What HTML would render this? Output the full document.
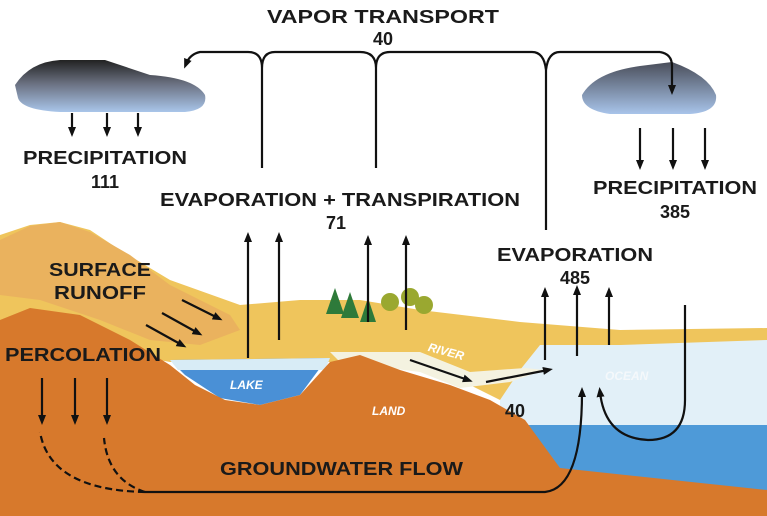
<!DOCTYPE html>
<html><head><style>html,body{margin:0;padding:0;background:#fff}svg{display:block}text{font-family:"Liberation Sans",sans-serif;font-weight:bold;fill:#1a1a1a}</style></head><body>
<svg width="767" height="516" viewBox="0 0 767 516" xmlns="http://www.w3.org/2000/svg">
<defs>
<marker id="a" markerWidth="10" markerHeight="10" refX="5" refY="5" orient="auto" markerUnits="userSpaceOnUse"><path d="M0,1 L10,5 L0,9 Z" fill="#111"/></marker>
<linearGradient id="cl" x1="0" y1="0" x2="0" y2="1"><stop offset="0" stop-color="#222"/><stop offset="0.45" stop-color="#6a7080"/><stop offset="1" stop-color="#a9c6ea"/></linearGradient>
<linearGradient id="cr" x1="0" y1="0" x2="0" y2="1"><stop offset="0" stop-color="#4a4e5a"/><stop offset="1" stop-color="#a8c4ea"/></linearGradient>
</defs>
<rect x="500" y="332" width="267" height="100" fill="#e2f0f8"/>
<path d="M520,425 L767,425 L767,492 L560,470 Z" fill="#4e9ad8"/>
<path d="M0,235 L30,225 L60,222 L90,230 L120,250 L170,280 L240,305 L300,300 L360,300 L420,310 L520,322 L620,330 L767,328 L767,340 L620,345 L540,345 L520,370 L500,400 L440,370 L330,362 L170,362 L0,330 Z" fill="#efc55c"/>
<path d="M0,240 L30,226 L60,222 L90,232 L130,255 L170,285 L230,315 L240,330 L200,345 L150,340 L100,320 L40,300 L0,295 Z" fill="#eab25e"/>
<path d="M170,360 L330,358 L320,368 L300,395 L260,405 L220,398 L185,375 Z" fill="#4a90d6"/>
<path d="M170,360 L330,358 L325,370 L178,370 Z" fill="#d8ecf6"/>
<path d="M330,352 L420,352 L470,372 L525,368 L545,370 L510,382 L460,388 L420,372 L340,362 Z" fill="#f4f2e0"/>
<path d="M0,320 L30,308 L80,315 L130,340 L170,365 L195,385 L225,400 L260,405 L300,395 L330,362 L360,355 L400,370 L450,385 L490,400 L525,420 L560,468 L767,490 L767,516 L0,516 Z" fill="#d7792c"/>
<path d="M15,85 Q30,62 60,60 L105,60 L150,75 Q195,78 205,95 Q208,110 185,112 L60,112 Q22,110 18,98 Z" fill="url(#cl)"/>
<path d="M582,95 Q595,72 640,66 L672,62 Q708,75 716,95 Q718,112 690,114 L610,114 Q582,110 582,95 Z" fill="url(#cr)"/>
<g fill="#2e7a3a"><path d="M335,288 L326,314 L344,314Z"/><path d="M350,292 L341,318 L359,318Z"/><path d="M368,298 L360,322 L376,322Z"/></g>
<g fill="#9aa830"><circle cx="390" cy="302" r="9"/><circle cx="410" cy="297" r="9"/><circle cx="424" cy="305" r="9"/></g>
<g stroke="#111" stroke-width="2.2" fill="none">
<path d="M660,52 L560,52 Q548,52 546,70 Q544,52 532,52 L390,52 Q376,52 376,68 L376,168 M376,68 Q376,52 360,52 L275,52 Q262,52 262,68 L262,168 M262,68 Q262,52 248,52 L200,52 Q190,54 186,64" marker-end="url(#a)"/>
<path d="M546,70 L546,230"/>
<path d="M660,52 Q672,54 672,66 L672,90" marker-end="url(#a)"/>
<path d="M72,113 L72,132" marker-end="url(#a)"/><path d="M107,113 L107,132" marker-end="url(#a)"/><path d="M138,113 L138,132" marker-end="url(#a)"/>
<path d="M640,128 L640,165" marker-end="url(#a)"/><path d="M673,128 L673,165" marker-end="url(#a)"/><path d="M705,128 L705,165" marker-end="url(#a)"/>
<path d="M248,358 L248,237" marker-end="url(#a)"/><path d="M279,340 L279,237" marker-end="url(#a)"/>
<path d="M368,322 L368,240" marker-end="url(#a)"/><path d="M406,330 L406,240" marker-end="url(#a)"/>
<path d="M545,360 L545,292" marker-end="url(#a)"/><path d="M577,356 L577,290" marker-end="url(#a)"/><path d="M609,345 L609,292" marker-end="url(#a)"/>
<path d="M685,305 L685,400 Q685,440 648,440 Q605,438 600,392" marker-end="url(#a)"/>
<path d="M145,492 L545,492 Q582,488 582,392" marker-end="url(#a)"/>
<path d="M42,378 L42,420" marker-end="url(#a)"/><path d="M75,378 L75,420" marker-end="url(#a)"/><path d="M107,378 L107,420" marker-end="url(#a)"/>
<path d="M145,492 Q50,490 40,432" stroke-dasharray="7,4"/><path d="M145,492 Q108,480 104,438" stroke-dasharray="7,4"/>
<path d="M182,300 L218,318" marker-end="url(#a)"/><path d="M162,313 L198,333" marker-end="url(#a)"/><path d="M146,325 L182,345" marker-end="url(#a)"/>
<path d="M410,360 L468,380" marker-end="url(#a)"/><path d="M486,382 L548,370" marker-end="url(#a)"/>
</g>
<g font-size="18">
<text x="383" y="23" text-anchor="middle" textLength="232" lengthAdjust="spacingAndGlyphs">VAPOR TRANSPORT</text>
<text x="383" y="45" text-anchor="middle">40</text>
<text x="105" y="164" text-anchor="middle" textLength="164" lengthAdjust="spacingAndGlyphs">PRECIPITATION</text>
<text x="105" y="188" text-anchor="middle">111</text>
<text x="340" y="206" text-anchor="middle" textLength="360" lengthAdjust="spacingAndGlyphs">EVAPORATION + TRANSPIRATION</text>
<text x="336" y="229" text-anchor="middle">71</text>
<text x="675" y="194" text-anchor="middle" textLength="164" lengthAdjust="spacingAndGlyphs">PRECIPITATION</text>
<text x="675" y="218" text-anchor="middle">385</text>
<text x="575" y="261" text-anchor="middle" textLength="156" lengthAdjust="spacingAndGlyphs">EVAPORATION</text>
<text x="575" y="284" text-anchor="middle">485</text>
<text x="100" y="276" text-anchor="middle" textLength="102" lengthAdjust="spacingAndGlyphs">SURFACE</text>
<text x="100" y="299" text-anchor="middle" textLength="92" lengthAdjust="spacingAndGlyphs">RUNOFF</text>
<text x="5" y="361" textLength="156" lengthAdjust="spacingAndGlyphs">PERCOLATION</text>
<text x="220" y="475" textLength="243" lengthAdjust="spacingAndGlyphs">GROUNDWATER FLOW</text>
<text x="505" y="417">40</text>
</g>
<g font-size="12" font-style="italic">
<text x="230" y="389" style="fill:#fff">LAKE</text>
<text x="372" y="415" style="fill:#fff">LAND</text>
<text x="428" y="354" style="fill:#fff" transform="rotate(15 440 350)">RIVER</text>
<text x="605" y="380" style="fill:#f4f8fb">OCEAN</text>
</g>
</svg>
</body></html>
